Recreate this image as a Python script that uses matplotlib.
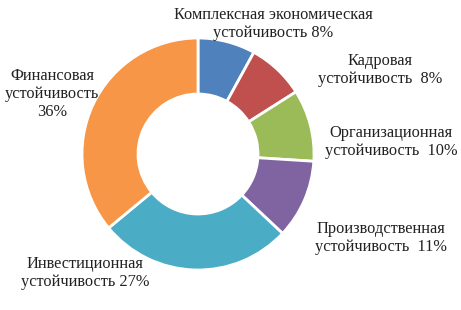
import matplotlib.pyplot as plt

# доли устойчивости, %
labels = ['Комплексная экономическая\nустойчивость 8%',
          'Кадровая\nустойчивость  8%',
          'Организационная\nустойчивость  10%',
          'Производственная\nустойчивость  11%',
          'Инвестиционная\nустойчивость 27%',
          'Финансовая\nустойчивость\n36%']
values = [8, 8, 10, 11, 27, 36]
colors = ['#4F81BD', '#C0504D', '#9BBB59', '#8064A2', '#4BACC6', '#F79646']

# позиции подписей в пикселях (x, y сверху)
label_pos = [(273, 24), (380, 70), (391, 142), (381, 238), (85, 273), (52, 94)]

plt.rcParams['font.family'] = ['Liberation Serif', 'DejaVu Serif']

fig = plt.figure(figsize=(4.61, 3.10), dpi=100)
ax = fig.add_axes([0, 0, 1, 1])

ax.pie(values, colors=colors, startangle=90, counterclock=False,
       center=(198, 156), radius=116, frame=True,
       wedgeprops=dict(width=56, edgecolor='white', linewidth=2))
ax.set_xlim(0, 461)
ax.set_ylim(0, 310)
ax.set_aspect('equal')
ax.axis('off')

for lab, (x, y) in zip(labels, label_pos):
    ax.text(x, 310 - y, lab, ha='center', va='center', fontsize=11.8,
            color='#222222', linespacing=1.2)

fig.savefig('out.png', dpi=100)
